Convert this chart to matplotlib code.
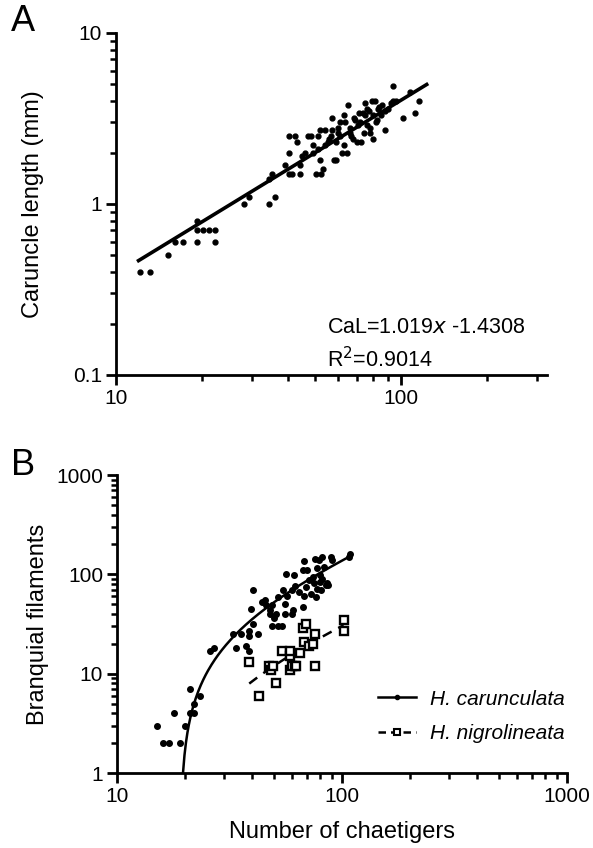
import matplotlib
matplotlib.use("Agg")
import matplotlib.pyplot as plt
from matplotlib.ticker import LogLocator, NullFormatter, FixedLocator, FixedFormatter
import numpy as np

plt.rcParams['font.family'] = ['Liberation Sans', 'DejaVu Sans']

# Panel A: chaetigers vs caruncle length (mm)
cal_chaet = [12.1, 13.2, 15.2, 16.1, 17.2, 19.2, 19.2, 19.2, 20.2, 21.2, 22.2, 22.2,
             28.2, 29.3, 34.3, 36.2, 34.3, 35.4, 39.2, 40.3, 41.3, 44.3, 44.3, 40.3,
             40.3, 42.3, 43.3, 47.3, 48.5, 49.2, 50.3, 52.4, 53.3, 52, 49.2, 51, 51,
             52, 54, 55.5, 57.4, 57.4, 58, 59, 61.1, 63.2, 63.5, 61.1, 59, 62, 64.5,
             63, 65.3, 67, 68.3, 70, 70.7, 72.3, 73.8, 74.9, 78, 79, 81.2, 82.3, 80,
             84, 87.5, 93.5, 94, 101.4, 107.5, 112, 115.6,
             56, 60, 66, 68, 72, 75, 76, 77, 80, 83, 85, 86, 88, 90, 96, 66, 60, 54,
             57, 78, 74, 82, 69, 71, 92, 76, 46, 45]
cal_len = [0.4, 0.4, 0.5, 0.6, 0.6, 0.8, 0.7, 0.6, 0.7, 0.7, 0.7, 0.6,
           1.0, 1.1, 1.0, 1.1, 1.4, 1.5, 1.7, 1.5, 1.5, 1.5, 1.7, 2.0,
           2.5, 2.5, 2.3, 2.5, 2.5, 2.2, 1.5, 1.5, 1.6, 1.8, 2.0, 2.1, 2.5,
           2.7, 2.7, 2.3, 2.7, 3.2, 1.8, 1.8, 3.0, 3.3, 3.0, 2.5, 2.3, 2.0, 2.0,
           2.2, 3.8, 2.5, 3.2, 2.3, 2.9, 2.3, 3.4, 3.9, 2.6, 4.0, 4.0, 3.1, 2.4,
           3.7, 2.7, 4.9, 4.0, 3.2, 4.5, 3.4, 4.0,
           2.4, 2.6, 2.8, 2.4, 3.0, 3.3, 2.9, 3.5, 3.3, 3.6, 3.3, 3.8, 3.5, 3.6, 4.0, 2.6, 2.8, 2.2,
           2.5, 2.8, 2.6, 3.0, 3.1, 3.4, 3.9, 3.6, 2.0, 1.9]
fit_slope = 1.019
fit_icpt = -1.4308
fit_range = [12, 123]

# Panel B: chaetigers vs branquial filaments
car_chaet = [15, 16, 17, 19, 18, 20, 21, 21, 22, 22, 23.5, 26, 27, 32.7, 33.9, 35.5,
             37.3, 38.6, 38.6, 38.6, 39.4, 40.4, 40.4, 42.5, 43.9, 45.4, 46, 47.7,
             47.7, 49, 50, 49, 52, 54, 50.8, 51.9, 54.5, 56, 56.5, 56, 57, 59.8,
             60.4, 61, 60, 62, 64.5, 67, 68, 69, 68, 67, 70, 71, 72.5, 74, 75.4,
             75.6, 76.5, 77.6, 77.6, 79, 79.5, 79.5, 80.3, 81.5, 83, 84.5, 86, 89,
             90.6, 87, 108.7, 107, 81.5]
car_fil = [3, 2, 2, 2, 4, 3, 7, 4, 4, 5, 6, 17, 18, 25, 18, 25,
           19, 27, 24, 17, 45, 70, 32, 25, 53, 55, 49, 44,
           40, 49, 36, 30, 30, 30, 40, 59, 69, 50, 100, 40, 60, 40,
           44, 99, 70, 76, 67, 47, 60, 75, 136, 110, 110, 87, 64, 95, 81,
           144, 59, 72, 117, 139, 84, 98, 69, 90, 119, 78, 81, 148,
           139, 78, 160, 150, 150]
car_slope = 1.7
car_icpt = -32.4

nig_chaet = [38.6, 42.6, 47.5, 48.5, 49.4, 51, 54.2, 59, 59, 59, 60, 61.7, 62.4,
             64.8, 66.9, 69, 68, 71.3, 74, 75.5, 75.5, 102, 102]
nig_fil = [13, 6, 12, 11, 12, 8, 17, 15, 17, 11, 12, 12, 12,
           16, 29, 32, 21, 19, 20, 25, 12, 35, 27]
nig_slope = 0.363
nig_icpt = -6.1
nig_range = [38.7, 101.6]

fig = plt.figure(figsize=(5.93, 8.48), dpi=100)
axA = fig.add_axes([0.1956, 0.5578, 0.7268, 0.4033])
axB = fig.add_axes([0.1973, 0.0884, 0.7589, 0.3514])


def style_axis(ax):
    ax.set_xscale('log')
    ax.set_yscale('log')
    for s in ['top', 'right']:
        ax.spines[s].set_visible(False)
    for s in ['left', 'bottom']:
        ax.spines[s].set_linewidth(2.0)
    ax.tick_params(which='major', length=7, width=2.0, labelsize=15, pad=3)
    ax.tick_params(which='minor', length=4.5, width=1.8)
    ax.xaxis.set_minor_locator(LogLocator(base=10, subs=np.arange(2, 10)))
    ax.yaxis.set_minor_locator(LogLocator(base=10, subs=np.arange(2, 10)))
    ax.xaxis.set_minor_formatter(NullFormatter())
    ax.yaxis.set_minor_formatter(NullFormatter())


# ---- panel A
style_axis(axA)
axA.plot(cal_chaet, cal_len, 'o', color='black', markersize=3.5, clip_on=False)
xf = np.linspace(fit_range[0], fit_range[1], 50)
axA.plot(xf, 10 ** (fit_slope * np.log10(xf) + fit_icpt), color='black', lw=2.6)
axA.set_xlim(10, 325)
axA.set_ylim(0.1, 10)
axA.xaxis.set_major_locator(FixedLocator([10, 100]))
axA.xaxis.set_major_formatter(FixedFormatter(['10', '100']))
axA.yaxis.set_major_locator(FixedLocator([0.1, 1, 10]))
axA.yaxis.set_major_formatter(FixedFormatter(['0.1', '1', '10']))
axA.set_ylabel('Caruncle length (mm)', fontsize=17)
axA.yaxis.set_label_coords(-0.168, 0.5)
axA.text(0.49, 0.14, 'CaL=1.019$\\mathit{x}$ -1.4308', transform=axA.transAxes,
         fontsize=15.5, ha='left', va='center')
axA.text(0.49, 0.045, 'R$^2$=0.9014', transform=axA.transAxes,
         fontsize=15.5, ha='left', va='center')
fig.text(0.0388, 0.975, 'A', fontsize=26, ha='center', va='center')

# ---- panel B
style_axis(axB)
xc = np.linspace((1 - car_icpt) / car_slope, 110, 300)
axB.plot(xc, car_slope * xc + car_icpt, color='black', lw=1.8, zorder=2)
axB.plot(car_chaet, car_fil, 'o', color='black', markersize=4, zorder=3)
xn = np.linspace(nig_range[0], nig_range[1], 100)
axB.plot(xn, nig_slope * xn + nig_icpt, color='black', lw=1.8, ls=(0, (4, 3)), zorder=2)
axB.plot(nig_chaet, nig_fil, 's', mfc='white', mec='black', markersize=5.4, mew=1.7, zorder=3)

# legend entries
axB.plot([], [], color='black', lw=1.8, marker='o', markersize=3,
         label='H. carunculata')
axB.plot([], [], color='black', lw=1.8, ls=(0, (3, 2)), marker='s', markersize=4,
         mfc='white', mec='black', mew=1.5, label='H. nigrolineata')
axB.legend(loc='upper left', bbox_to_anchor=(0.58, 0.28), frameon=False,
           borderpad=0, borderaxespad=0, handlelength=1.8, labelspacing=0.75,
           handletextpad=0.7, prop={'style': 'italic', 'size': 15})

axB.set_xlim(10, 1000)
axB.set_ylim(1, 1000)
axB.xaxis.set_major_locator(FixedLocator([10, 100, 1000]))
axB.xaxis.set_major_formatter(FixedFormatter(['10', '100', '1000']))
axB.yaxis.set_major_locator(FixedLocator([1, 10, 100, 1000]))
axB.yaxis.set_major_formatter(FixedFormatter(['1', '10', '100', '1000']))
axB.set_ylabel('Branquial filaments', fontsize=17)
axB.yaxis.set_label_coords(-0.151, 0.5)
axB.set_xlabel('Number of chaetigers', fontsize=17)
axB.xaxis.set_label_coords(0.5, -0.16)
fig.text(0.0388, 0.4505, 'B', fontsize=26, ha='center', va='center')

fig.savefig('out.png', dpi=100)
